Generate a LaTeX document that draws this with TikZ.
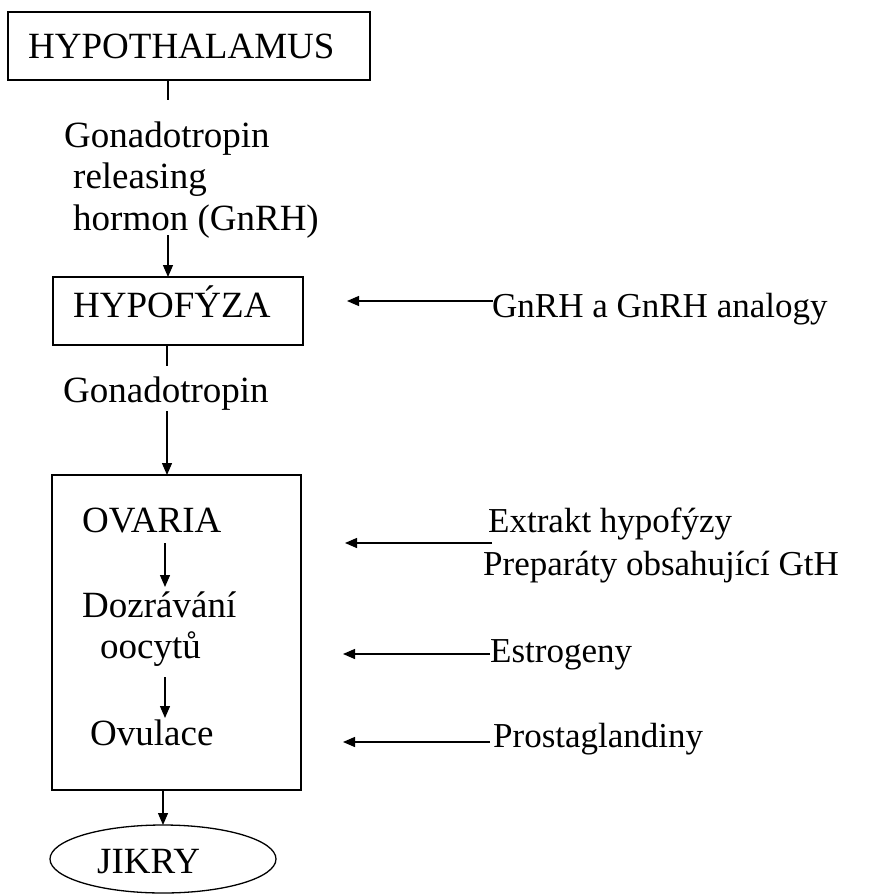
\documentclass[tikz,border=0pt]{standalone}
\usepackage{fontspec}
\setmainfont{Liberation Serif}
\usetikzlibrary{arrows.meta,shapes.geometric}
\begin{document}
\begin{tikzpicture}[x=1pt,y=-1pt,
  txt/.style={anchor=base west,inner sep=0pt,font=\fontsize{37}{44}\selectfont},
  rtxt/.style={anchor=base west,inner sep=0pt,font=\fontsize{35}{42}\selectfont},
  box/.style={draw,line width=1.3pt,rectangle,inner sep=0pt},
  ln/.style={line width=1.3pt},
  arr/.style={line width=1.3pt,-{Triangle[length=12pt,width=10pt]}}]
\useasboundingbox (0,0) rectangle (877,894);
% boxes
\node[box,minimum width=362pt,minimum height=68pt] (hypt) at (189,46) {};
\node[txt] (hyptT) at (28,58) {HYPOTHALAMUS};
\node[box,minimum width=250pt,minimum height=68pt] (hypf) at (178,311) {};
\node[txt] (hypfT) at (73,317) {HYPOFÝZA};
\node[box,minimum width=249pt,minimum height=315pt] (ova) at (176.5,632.5) {};
\node[draw,line width=1.3pt,ellipse,minimum width=226pt,minimum height=68pt,inner sep=0pt] (jik) at (163,859) {};
\node[txt] (jikT) at (97,873) {JIKRY};
% left texts
\node[txt] (gn1) at (64,147) {Gonadotropin};
\node[txt] (gn2) at (73,188) {releasing};
\node[txt] (gn3) at (73,230) {hormon (GnRH)};
\node[txt] (gon) at (63,402) {Gonadotropin};
\node[txt] (ovT) at (82,532) {OVARIA};
\node[txt] (doz1) at (82,617) {Dozrávání};
\node[txt] (doz2) at (100,658) {oocytů};
\node[txt] (ovu) at (90,745) {Ovulace};
% right texts
\node[rtxt] (gnrh) at (492,317) {GnRH a GnRH analogy};
\node[rtxt] (ext1) at (488,532) {Extrakt hypofýzy};
\node[rtxt] (ext2) at (483,575) {Preparáty obsahující GtH};
\node[rtxt] (est) at (490,662) {Estrogeny};
\node[rtxt] (pro) at (493,747) {Prostaglandiny};
% coordinates
\coordinate (a1) at (168,80);
\coordinate (a2) at (168,100);
\coordinate (b1) at (168,235);
\coordinate (b2) at (168,277);
\coordinate (c1) at (167,345);
\coordinate (c2) at (167,366);
\coordinate (d1) at (167,411);
\coordinate (d2) at (167,475);
\coordinate (e1) at (165,543);
\coordinate (e2) at (165,587);
\coordinate (f1) at (165,677);
\coordinate (f2) at (165,718);
\coordinate (g1) at (163,790);
\coordinate (g2) at (163,825);
\coordinate (r1s) at (493,301);
\coordinate (r1e) at (347,301);
\coordinate (r2s) at (492,543);
\coordinate (r2e) at (345,543);
\coordinate (r3s) at (490,654);
\coordinate (r3e) at (343,654);
\coordinate (r4s) at (490,742);
\coordinate (r4e) at (343,742);
% connectors
\draw[ln] (a1) -- (a2);
\draw[arr] (b1) -- (b2);
\draw[ln] (c1) -- (c2);
\draw[arr] (d1) -- (d2);
\draw[arr] (e1) -- (e2);
\draw[arr] (f1) -- (f2);
\draw[arr] (g1) -- (g2);
\draw[arr] (r1s) -- (r1e);
\draw[arr] (r2s) -- (r2e);
\draw[arr] (r3s) -- (r3e);
\draw[arr] (r4s) -- (r4e);
\end{tikzpicture}
\end{document}
